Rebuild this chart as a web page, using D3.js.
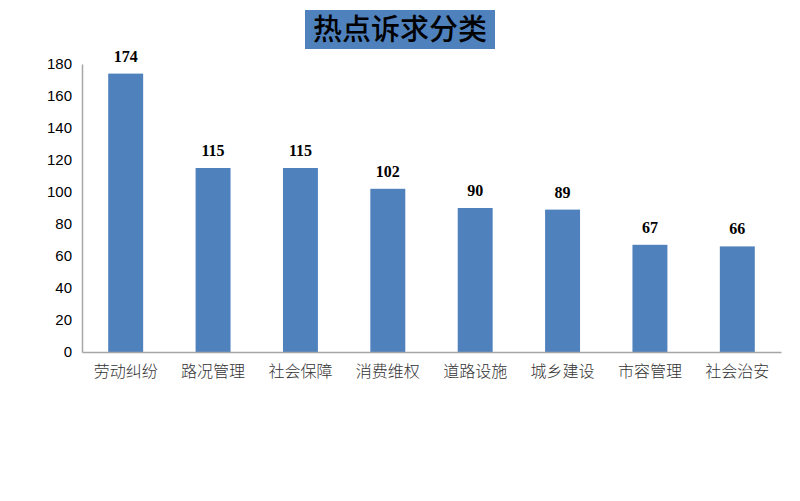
<!DOCTYPE html>
<html>
<head>
<meta charset="utf-8">
<script src="https://cdn.jsdelivr.net/npm/d3@7"></script>
<style>
  body { margin: 0; background: #fff; }
</style>
</head>
<body>
<div id="chart"></div>
<script>
// data
var categories = ["劳动纠纷", "路况管理", "社会保障", "消费维权", "道路设施", "城乡建设", "市容管理", "社会治安"];
var counts = [174, 115, 115, 102, 90, 89, 67, 66];
var yTicks = [0, 20, 40, 60, 80, 100, 120, 140, 160, 180];
var titleText = "热点诉求分类";

var W = 800, H = 501;
var margin = { top: 64, right: 19, bottom: 149, left: 82 },
    width = W - margin.left - margin.right,
    height = H - margin.top - margin.bottom;

var svg = d3.select("#chart")
    .append("svg")
    .attr("width", W)
    .attr("height", H);

// title box
var tg = svg.append("g");
tg.append("rect")
    .attr("x", 305).attr("y", 10)
    .attr("width", 190).attr("height", 39)
    .attr("fill", "#4F81BD");
tg.append("text")
    .attr("x", 400).attr("y", 40)
    .attr("text-anchor", "middle")
    .style("font-family", "'Noto Sans CJK SC', sans-serif")
    .style("font-weight", "500")
    .style("font-size", "29px")
    .style("fill", "#000")
    .text(titleText);

var g = svg.append("g")
    .attr("transform", "translate(" + margin.left + "," + margin.top + ")");

var x = d3.scaleBand()
    .domain(categories)
    .range([0, width])
    .paddingInner(0.6)
    .paddingOuter(0.3);

var y = d3.scaleLinear()
    .domain([0, 180])
    .range([height, 0]);

// Y axis
var yAxis = g.append("g")
    .call(d3.axisLeft(y).tickValues(yTicks).tickSize(0).tickPadding(10));
yAxis.select(".domain").attr("stroke", "#a6a6a6").attr("stroke-width", 1.5);
yAxis.selectAll("text")
    .style("font-family", "'Liberation Sans', 'DejaVu Sans', sans-serif")
    .style("font-size", "15px")
    .style("fill", "#000");

// bars
g.append("g")
    .selectAll("rect")
    .data(counts)
    .enter()
    .append("rect")
    .attr("x", function (d, i) { return x(categories[i]); })
    .attr("y", function (d) { return y(d); })
    .attr("width", x.bandwidth())
    .attr("height", function (d) { return height - y(d); })
    .attr("fill", "#4F81BD");

// value labels
g.append("g")
    .selectAll("text")
    .data(counts)
    .enter()
    .append("text")
    .attr("x", function (d, i) { return x(categories[i]) + x.bandwidth() / 2; })
    .attr("y", function (d) { return y(d) - 12; })
    .attr("text-anchor", "middle")
    .style("font-family", "'Liberation Serif', serif")
    .style("font-weight", "bold")
    .style("font-size", "16px")
    .style("fill", "#000")
    .text(function (d) { return d; });

// X axis
var xAxis = g.append("g")
    .attr("transform", "translate(0," + height + ")")
    .call(d3.axisBottom(x).tickSize(0).tickPadding(14).tickSizeOuter(0));
xAxis.select(".domain").attr("stroke", "#a6a6a6").attr("stroke-width", 1.5);
xAxis.selectAll("text")
    .style("font-family", "'Noto Sans CJK SC', sans-serif")
    .style("font-weight", "300")
    .style("font-size", "16px")
    .style("fill", "#333");
</script>
</body>
</html>
